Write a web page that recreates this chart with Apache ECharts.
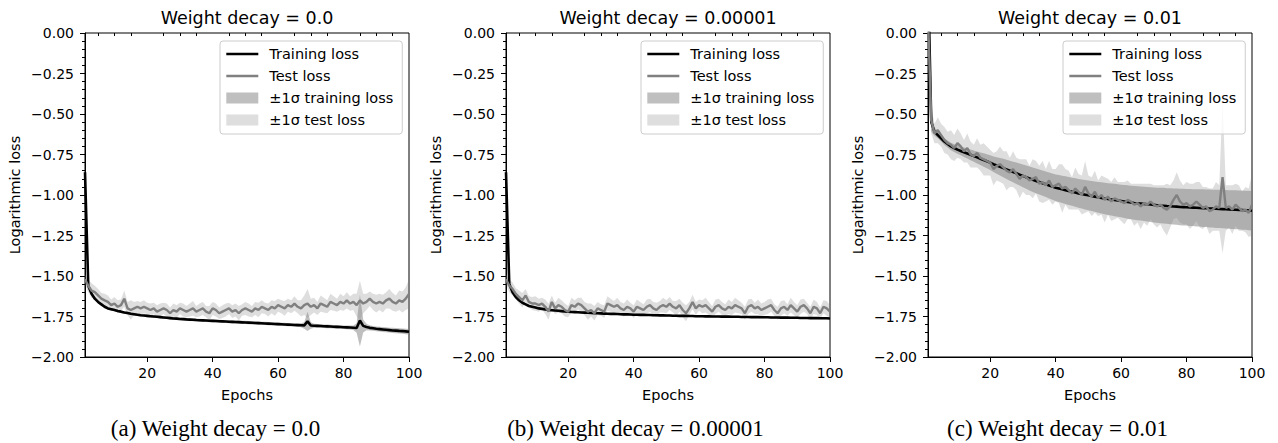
<!DOCTYPE html>
<html>
<head>
<meta charset="utf-8">
<script src="https://cdn.jsdelivr.net/npm/echarts@6/dist/echarts.min.js"></script>
<style>html,body{margin:0;padding:0;background:#fff}#c{width:1278px;height:443px}</style>
</head>
<body>
<div id="c"></div>
<script>
// ---- data (epochs 1..100) ----
const epochs = Array.from({length: 100}, (_, i) => i + 1);
const panelTitles = ['Weight decay = 0.0', 'Weight decay = 0.00001', 'Weight decay = 0.01'];
const captions = ['(a) Weight decay = 0.0', '(b) Weight decay = 0.00001', '(c) Weight decay = 0.01'];
const xMajorTicks = [20, 40, 60, 80, 100];
const xMinorTicks = [5, 10, 15, 25, 30, 35, 45, 50, 55, 65, 70, 75, 85, 90, 95];
const legendNames = ['Training loss', 'Test loss', '\u00b11\u03c3 training loss', '\u00b11\u03c3 test loss'];

// Panel (a) weight decay 0.0
const trainA = [-0.86,-1.56,-1.61,-1.64,-1.66,-1.675,-1.69,-1.70,-1.705,-1.71,
 -1.716,-1.72,-1.725,-1.729,-1.733,-1.736,-1.739,-1.742,-1.744,-1.746,
 -1.748,-1.750,-1.752,-1.754,-1.756,-1.758,-1.760,-1.762,-1.763,-1.765,
 -1.766,-1.768,-1.769,-1.770,-1.772,-1.773,-1.774,-1.775,-1.776,-1.777,
 -1.778,-1.779,-1.780,-1.781,-1.782,-1.783,-1.784,-1.785,-1.786,-1.787,
 -1.788,-1.789,-1.790,-1.791,-1.792,-1.793,-1.794,-1.795,-1.796,-1.797,
 -1.798,-1.799,-1.800,-1.801,-1.802,-1.803,-1.804,-1.805,-1.780,-1.806,
 -1.807,-1.808,-1.809,-1.810,-1.811,-1.812,-1.813,-1.814,-1.815,-1.816,
 -1.817,-1.818,-1.819,-1.821,-1.775,-1.808,-1.815,-1.820,-1.823,-1.826,
 -1.828,-1.830,-1.832,-1.834,-1.836,-1.837,-1.839,-1.840,-1.842,-1.844];
const trainSdA = [0.02,0.015,0.012,0.01,0.01,0.009,0.009,0.008,0.008,0.008,
 0.008,0.008,0.008,0.008,0.008,0.008,0.008,0.008,0.008,0.008,
 0.008,0.008,0.008,0.008,0.008,0.008,0.008,0.008,0.008,0.008,
 0.009,0.009,0.009,0.009,0.009,0.009,0.009,0.009,0.009,0.009,
 0.009,0.009,0.009,0.009,0.009,0.010,0.010,0.010,0.010,0.010,
 0.010,0.010,0.010,0.010,0.010,0.010,0.010,0.010,0.010,0.010,
 0.010,0.010,0.010,0.010,0.010,0.011,0.012,0.02,0.06,0.02,
 0.012,0.011,0.011,0.011,0.011,0.011,0.011,0.011,0.011,0.011,
 0.011,0.012,0.014,0.03,0.16,0.04,0.02,0.016,0.015,0.015,
 0.015,0.015,0.015,0.015,0.016,0.016,0.016,0.016,0.017,0.017];
const testA = [-1.52,-1.56,-1.59,-1.60,-1.62,-1.64,-1.65,-1.66,-1.68,-1.67,
 -1.69,-1.68,-1.64,-1.70,-1.71,-1.70,-1.69,-1.70,-1.69,-1.70,
 -1.71,-1.70,-1.72,-1.71,-1.70,-1.71,-1.73,-1.71,-1.72,-1.70,
 -1.71,-1.72,-1.71,-1.70,-1.72,-1.71,-1.70,-1.72,-1.73,-1.70,
 -1.71,-1.73,-1.72,-1.71,-1.70,-1.72,-1.71,-1.73,-1.71,-1.70,
 -1.71,-1.72,-1.70,-1.71,-1.69,-1.70,-1.71,-1.69,-1.70,-1.68,
 -1.69,-1.70,-1.68,-1.69,-1.67,-1.69,-1.70,-1.68,-1.67,-1.69,
 -1.68,-1.70,-1.67,-1.68,-1.69,-1.66,-1.67,-1.68,-1.66,-1.67,
 -1.65,-1.67,-1.66,-1.68,-1.65,-1.67,-1.66,-1.64,-1.66,-1.67,
 -1.66,-1.67,-1.65,-1.64,-1.66,-1.67,-1.65,-1.66,-1.64,-1.61];
const testSdA = [0.03,0.04,0.045,0.04,0.04,0.035,0.04,0.04,0.035,0.04,
 0.04,0.035,0.05,0.04,0.06,0.04,0.035,0.04,0.04,0.035,
 0.04,0.035,0.04,0.04,0.035,0.04,0.035,0.04,0.04,0.035,
 0.04,0.035,0.04,0.045,0.035,0.04,0.04,0.035,0.045,0.04,
 0.04,0.035,0.04,0.04,0.035,0.04,0.04,0.045,0.035,0.04,
 0.04,0.035,0.04,0.045,0.04,0.035,0.04,0.04,0.045,0.04,
 0.04,0.045,0.04,0.04,0.045,0.04,0.05,0.06,0.09,0.05,
 0.045,0.04,0.05,0.045,0.04,0.05,0.045,0.04,0.05,0.045,
 0.05,0.045,0.05,0.07,0.12,0.06,0.05,0.045,0.05,0.055,
 0.05,0.055,0.05,0.06,0.055,0.05,0.06,0.065,0.07,0.09];

// Panel (b) weight decay 0.00001
const trainB = [-0.86,-1.55,-1.60,-1.63,-1.65,-1.665,-1.675,-1.685,-1.69,-1.695,
 -1.700,-1.703,-1.706,-1.709,-1.711,-1.713,-1.715,-1.717,-1.719,-1.720,
 -1.722,-1.723,-1.724,-1.725,-1.726,-1.727,-1.728,-1.729,-1.730,-1.731,
 -1.732,-1.733,-1.734,-1.734,-1.735,-1.736,-1.737,-1.737,-1.738,-1.739,
 -1.739,-1.740,-1.740,-1.741,-1.741,-1.742,-1.742,-1.743,-1.743,-1.744,
 -1.744,-1.745,-1.745,-1.746,-1.746,-1.746,-1.747,-1.747,-1.748,-1.748,
 -1.748,-1.749,-1.749,-1.750,-1.750,-1.750,-1.751,-1.751,-1.751,-1.752,
 -1.752,-1.752,-1.753,-1.753,-1.753,-1.754,-1.754,-1.754,-1.755,-1.755,
 -1.755,-1.756,-1.756,-1.756,-1.757,-1.757,-1.757,-1.758,-1.758,-1.758,
 -1.759,-1.759,-1.759,-1.760,-1.760,-1.760,-1.761,-1.761,-1.761,-1.762];
const trainSdB = [0.02,0.012,0.01,0.008,0.007,0.007,0.006,0.006,0.006,0.006,
 0.006,0.006,0.006,0.006,0.006,0.006,0.006,0.006,0.006,0.006,
 0.006,0.006,0.006,0.006,0.006,0.006,0.006,0.006,0.006,0.006,
 0.006,0.006,0.006,0.006,0.006,0.006,0.006,0.006,0.006,0.006,
 0.006,0.006,0.006,0.006,0.006,0.006,0.006,0.006,0.006,0.006,
 0.006,0.006,0.006,0.006,0.006,0.006,0.006,0.006,0.006,0.006,
 0.006,0.006,0.006,0.006,0.006,0.006,0.006,0.006,0.006,0.006,
 0.006,0.006,0.006,0.006,0.006,0.006,0.006,0.006,0.006,0.006,
 0.006,0.006,0.006,0.006,0.006,0.006,0.006,0.006,0.006,0.006,
 0.006,0.006,0.006,0.006,0.006,0.006,0.006,0.006,0.006,0.006];
const testB = [-1.52,-1.56,-1.58,-1.61,-1.63,-1.65,-1.62,-1.66,-1.67,-1.67,
 -1.68,-1.67,-1.69,-1.72,-1.66,-1.70,-1.68,-1.69,-1.71,-1.72,
 -1.68,-1.69,-1.67,-1.68,-1.70,-1.72,-1.71,-1.73,-1.70,-1.71,
 -1.72,-1.67,-1.68,-1.69,-1.68,-1.70,-1.71,-1.69,-1.70,-1.72,
 -1.69,-1.70,-1.71,-1.69,-1.68,-1.70,-1.71,-1.69,-1.68,-1.69,
 -1.67,-1.69,-1.70,-1.68,-1.71,-1.73,-1.70,-1.66,-1.70,-1.68,
 -1.69,-1.68,-1.70,-1.72,-1.69,-1.68,-1.70,-1.71,-1.69,-1.70,
 -1.68,-1.69,-1.70,-1.73,-1.69,-1.68,-1.70,-1.69,-1.71,-1.70,
 -1.69,-1.68,-1.71,-1.73,-1.70,-1.69,-1.71,-1.68,-1.70,-1.72,
 -1.69,-1.68,-1.70,-1.73,-1.69,-1.70,-1.73,-1.69,-1.70,-1.72];
const testSdB = [0.03,0.04,0.04,0.035,0.04,0.045,0.04,0.035,0.04,0.045,
 0.04,0.035,0.045,0.05,0.04,0.035,0.045,0.04,0.04,0.035,
 0.045,0.04,0.035,0.045,0.04,0.05,0.04,0.045,0.04,0.035,
 0.04,0.045,0.04,0.035,0.045,0.04,0.04,0.045,0.035,0.04,
 0.045,0.04,0.035,0.045,0.04,0.04,0.045,0.035,0.045,0.04,
 0.04,0.035,0.045,0.04,0.045,0.05,0.04,0.045,0.04,0.035,
 0.04,0.045,0.04,0.035,0.045,0.04,0.04,0.035,0.045,0.04,
 0.045,0.04,0.035,0.04,0.045,0.04,0.035,0.045,0.04,0.04,
 0.045,0.04,0.035,0.04,0.045,0.04,0.035,0.045,0.04,0.04,
 0.045,0.04,0.035,0.04,0.045,0.04,0.035,0.04,0.045,0.04];

// Panel (c) weight decay 0.01
const trainC = [0.35,-0.55,-0.61,-0.63,-0.65,-0.67,-0.685,-0.70,-0.71,-0.72,
 -0.728,-0.736,-0.744,-0.752,-0.760,-0.768,-0.776,-0.784,-0.792,-0.800,
 -0.810,-0.818,-0.826,-0.834,-0.842,-0.850,-0.858,-0.866,-0.874,-0.882,
 -0.890,-0.898,-0.906,-0.913,-0.920,-0.927,-0.934,-0.941,-0.948,-0.955,
 -0.960,-0.965,-0.970,-0.975,-0.980,-0.985,-0.990,-0.994,-0.998,-1.002,
 -1.006,-1.010,-1.014,-1.018,-1.022,-1.025,-1.028,-1.031,-1.034,-1.037,
 -1.040,-1.043,-1.046,-1.049,-1.051,-1.053,-1.055,-1.057,-1.059,-1.061,
 -1.063,-1.065,-1.066,-1.068,-1.069,-1.071,-1.072,-1.074,-1.075,-1.076,
 -1.077,-1.078,-1.079,-1.080,-1.081,-1.082,-1.083,-1.084,-1.085,-1.086,
 -1.087,-1.088,-1.089,-1.090,-1.091,-1.092,-1.093,-1.094,-1.095,-1.097];
const trainSdC = [0.30,0.06,0.025,0.02,0.02,0.021,0.022,0.023,0.024,0.025,
 0.027,0.029,0.031,0.033,0.035,0.037,0.039,0.041,0.043,0.045,
 0.048,0.051,0.054,0.057,0.060,0.062,0.064,0.066,0.068,0.070,
 0.072,0.074,0.075,0.076,0.077,0.078,0.079,0.080,0.081,0.082,
 0.083,0.084,0.085,0.086,0.087,0.088,0.089,0.090,0.091,0.092,
 0.093,0.094,0.095,0.096,0.097,0.098,0.099,0.100,0.100,0.101,
 0.102,0.103,0.103,0.104,0.105,0.105,0.106,0.107,0.107,0.108,
 0.108,0.109,0.110,0.110,0.111,0.111,0.112,0.112,0.113,0.113,
 0.114,0.114,0.115,0.115,0.116,0.116,0.117,0.117,0.118,0.118,
 0.118,0.119,0.119,0.120,0.120,0.120,0.121,0.121,0.122,0.122];
const testC = [0.10,-0.54,-0.62,-0.60,-0.63,-0.66,-0.68,-0.69,-0.71,-0.68,
 -0.70,-0.73,-0.71,-0.75,-0.76,-0.74,-0.77,-0.78,-0.79,-0.80,
 -0.84,-0.82,-0.81,-0.83,-0.85,-0.86,-0.84,-0.87,-0.90,-0.88,
 -0.89,-0.91,-0.90,-0.89,-0.93,-0.92,-0.94,-0.91,-0.95,-0.94,
 -0.93,-0.96,-0.95,-0.97,-0.99,-0.96,-0.98,-1.00,-0.95,-0.99,
 -1.01,-0.98,-1.02,-1.00,-1.03,-1.01,-1.04,-1.02,-1.03,-1.04,
 -1.05,-1.03,-1.04,-1.06,-1.05,-1.07,-1.05,-1.06,-1.04,-1.06,
 -1.07,-1.06,-1.08,-1.09,-1.07,-1.03,-1.00,-1.04,-1.06,-1.05,
 -1.07,-1.06,-1.04,-1.06,-1.08,-1.07,-1.10,-1.09,-1.07,-1.08,
 -0.89,-1.08,-1.07,-1.09,-1.06,-1.08,-1.10,-1.09,-1.11,-1.06];
const testSdC = [0.10,0.08,0.06,0.08,0.07,0.08,0.07,0.09,0.08,0.09,
 0.08,0.07,0.09,0.08,0.07,0.09,0.08,0.10,0.09,0.08,
 0.10,0.09,0.11,0.10,0.12,0.09,0.11,0.10,0.12,0.10,
 0.11,0.09,0.12,0.10,0.11,0.13,0.10,0.12,0.11,0.10,
 0.12,0.15,0.11,0.12,0.10,0.13,0.11,0.12,0.16,0.11,
 0.12,0.13,0.11,0.12,0.14,0.11,0.12,0.13,0.11,0.12,
 0.13,0.12,0.11,0.13,0.12,0.14,0.12,0.13,0.11,0.12,
 0.13,0.12,0.14,0.16,0.13,0.12,0.14,0.13,0.12,0.13,
 0.14,0.13,0.12,0.14,0.13,0.12,0.14,0.13,0.15,0.14,
 0.47,0.14,0.13,0.15,0.13,0.14,0.12,0.14,0.15,0.19];

const panels = [
  {train: trainA, trainSd: trainSdA, test: testA, testSd: testSdA},
  {train: trainB, trainSd: trainSdB, test: testB, testSd: testSdB},
  {train: trainC, trainSd: trainSdC, test: testC, testSd: testSdC}
];

// ---- layout / style ----
const gridLeft = [85, 506, 928];
const gridTop = 33, gridSize = 324;
const FONT = 'DejaVu Sans';
const TRAIN_BAND = 'rgba(128,128,128,0.5)';
const TEST_BAND = 'rgba(128,128,128,0.26)';

const fmtY = v => (v < 0 ? '\u2212' : '') + Math.abs(v).toFixed(2);

// band drawn as one polygon through the axes' own coordinate mapping
function bandRenderer(color) {
  return function (params, api) {
    if (params.dataIndexInside !== 0) return null;
    const n = params.dataInsideLength;
    const up = [], lo = [];
    for (let j = 0; j < n; j++) {
      const x = api.value(0, j), m = api.value(1, j), s = api.value(2, j);
      up.push(api.coord([x, m + s]));
      lo.push(api.coord([x, m - s]));
    }
    const cs = params.coordSys;
    return {
      type: 'polygon',
      shape: {points: up.concat(lo.reverse())},
      style: {fill: color, stroke: null},
      clipPath: {type: 'rect', shape: {x: cs.x, y: cs.y, width: cs.width, height: cs.height}},
      silent: true
    };
  };
}

const grids = [], xAxes = [], yAxes = [], series = [], legends = [], graphics = [];
panels.forEach((p, k) => {
  grids.push({left: gridLeft[k], top: gridTop, width: gridSize, height: gridSize,
    show: true, borderColor: '#000', borderWidth: 1, backgroundColor: 'transparent'});
  xAxes.push({type: 'value', gridIndex: k, min: 1, max: 100, position: 'bottom',
    name: 'Epochs', nameLocation: 'middle', nameGap: 30,
    nameTextStyle: {fontFamily: FONT, fontSize: 14.5, color: '#000'},
    axisLine: {show: true, onZero: false, lineStyle: {color: '#000', width: 1}},
    axisTick: {show: true, length: 5, customValues: xMajorTicks, lineStyle: {color: '#000', width: 1}},
    axisLabel: {show: true, customValues: xMajorTicks, margin: 9, fontFamily: FONT, fontSize: 14, color: '#000'},
    splitLine: {show: false}});
  xAxes.push({type: 'value', gridIndex: k, min: 1, max: 100, position: 'bottom',
    axisLine: {show: false},
    axisTick: {show: true, length: 3, customValues: xMinorTicks, lineStyle: {color: '#000', width: 1}},
    axisLabel: {show: false}, splitLine: {show: false}});
  yAxes.push({type: 'value', gridIndex: k, min: -2, max: 0, interval: 0.25,
    name: 'Logarithmic loss', nameLocation: 'middle', nameGap: 63,
    nameTextStyle: {fontFamily: FONT, fontSize: 14.5, color: '#000'},
    axisLine: {show: true, onZero: false, lineStyle: {color: '#000', width: 1}},
    axisTick: {show: true, length: 5, lineStyle: {color: '#000', width: 1}},
    minorTick: {show: true, splitNumber: 5, length: 3, lineStyle: {color: '#000', width: 1}},
    axisLabel: {margin: 11, fontFamily: FONT, fontSize: 14, color: '#000', formatter: fmtY},
    splitLine: {show: false}, minorSplitLine: {show: false}});

  const xi = k * 2, yi = k;
  series.push({type: 'custom', name: legendNames[3], xAxisIndex: xi, yAxisIndex: yi,
    renderItem: bandRenderer(TEST_BAND), itemStyle: {color: TEST_BAND}, silent: true, animation: false,
    encode: {x: 0, y: 1}, data: p.test.map((m, i) => [epochs[i], m, p.testSd[i]])});
  series.push({type: 'custom', name: legendNames[2], xAxisIndex: xi, yAxisIndex: yi,
    renderItem: bandRenderer(TRAIN_BAND), itemStyle: {color: TRAIN_BAND}, silent: true, animation: false,
    encode: {x: 0, y: 1}, data: p.train.map((m, i) => [epochs[i], m, p.trainSd[i]])});
  const base = {type: 'line', xAxisIndex: xi, yAxisIndex: yi, symbol: 'none', showSymbol: false,
    animation: false, silent: true, clip: true};
  series.push(Object.assign({}, base, {name: legendNames[0], data: p.train.map((v, i) => [epochs[i], v]),
    color: '#000', lineStyle: {color: '#000', width: 2.6}}));
  series.push(Object.assign({}, base, {name: legendNames[1], data: p.test.map((v, i) => [epochs[i], v]),
    color: '#808080', lineStyle: {color: '#808080', width: 2.4}}));

  const hidden = {color: 'transparent', borderColor: 'transparent', borderWidth: 0, opacity: 0};
  legends.push({orient: 'vertical', left: gridLeft[k] + gridSize - 189, top: 41,
    selectedMode: false, itemWidth: 32, itemHeight: 11, itemGap: 6,
    padding: [5, 9, 6, 5], backgroundColor: 'rgba(255,255,255,0.8)',
    borderColor: '#cccccc', borderWidth: 1, borderRadius: 3,
    textStyle: {fontFamily: FONT, fontSize: 14.5, color: '#000', lineHeight: 16, padding: [0, 0, 0, 6]},
    data: [
      {name: legendNames[0], itemStyle: hidden, lineStyle: {color: '#000', width: 2.6}},
      {name: legendNames[1], itemStyle: hidden, lineStyle: {color: '#808080', width: 2.4}},
      {name: legendNames[2], icon: 'rect', itemStyle: {color: TRAIN_BAND, borderWidth: 0}},
      {name: legendNames[3], icon: 'rect', itemStyle: {color: TEST_BAND, borderWidth: 0}}
    ]});

  graphics.push({type: 'text', x: gridLeft[k] + gridSize / 2, y: 18, z: 10,
    style: {text: panelTitles[k], font: '17.5px "DejaVu Sans"', fill: '#000', align: 'center', verticalAlign: 'middle'}});
});
const captionX = [215.5, 635.5, 1057.5];
captions.forEach((t, k) => {
  graphics.push({type: 'text', x: captionX[k], y: 428, z: 10,
    style: {text: t, font: '23px "Liberation Serif"', fill: '#000', align: 'center', verticalAlign: 'middle'}});
});

const chart = echarts.init(document.getElementById('c'), null, {renderer: 'svg', width: 1278, height: 443});
chart.setOption({
  animation: false,
  backgroundColor: '#fff',
  grid: grids, xAxis: xAxes, yAxis: yAxes, series: series, legend: legends,
  graphic: graphics
});
</script>
</body>
</html>
